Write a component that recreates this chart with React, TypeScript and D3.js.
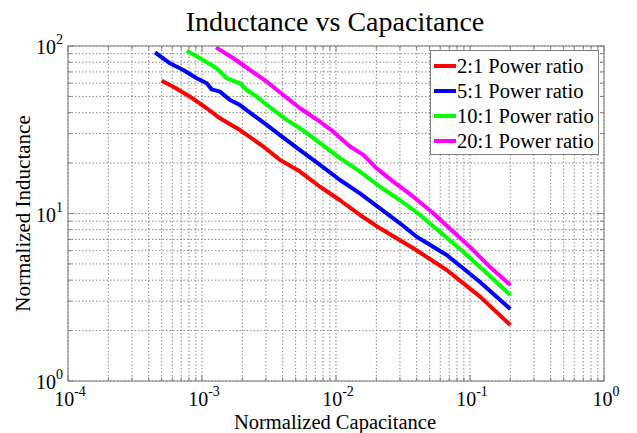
import React from 'react';
import * as d3 from 'd3';

const W = 637;
const H = 433;

const titleText = 'Inductance vs Capacitance';
const xLabel = 'Normalized Capacitance';
const yLabel = 'Normalized Inductance';
const xTickExps = [-4, -3, -2, -1, 0];
const yTickExps = [0, 1, 2];

const seriesNames = ['2:1 Power ratio', '5:1 Power ratio', '10:1 Power ratio', '20:1 Power ratio'];
const seriesColors = ['#ff0000', '#0000ff', '#00ff00', '#ff00ff'];

const cap2 = [5.0e-4, 6.11e-4, 8.14e-4, 1.084e-3, 1.362e-3, 1.921e-3, 2.867e-3, 3.82e-3, 5.385e-3, 7.6e-3, 1.071e-2, 1.51e-2, 2.13e-2, 3.776e-2, 6.7e-2, 0.1187, 0.2];
const ind2 = [62.1, 57.1, 49.8, 42.5, 37.0, 31.5, 25.1, 20.9, 17.8, 14.45, 12.0, 9.8, 8.16, 6.2, 4.6, 3.19, 2.16];

const cap5 = [4.46e-4, 5.77e-4, 7.25e-4, 9.13e-4, 1.084e-3, 1.181e-3, 1.362e-3, 1.618e-3, 1.921e-3, 2.415e-3, 3.04e-3, 3.82e-3, 5.385e-3, 7.6e-3, 1.071e-2, 1.51e-2, 2.13e-2, 3.003e-2, 4.0e-2, 6.7e-2, 0.1187, 0.2];
const ind5 = [91.7, 78.8, 71.9, 64.2, 59.9, 55.1, 53.4, 47.6, 44.4, 38.7, 33.8, 29.4, 23.9, 19.5, 15.85, 13.2, 10.74, 8.74, 7.27, 5.65, 3.9, 2.69];

const cap10 = [7.69e-4, 9.66e-4, 1.287e-3, 1.528e-3, 1.921e-3, 2.156e-3, 2.559e-3, 3.405e-3, 4.286e-3, 5.385e-3, 7.6e-3, 1.071e-2, 1.51e-2, 2.13e-2, 3.003e-2, 4.235e-2, 5.97e-2, 8.42e-2, 0.1187, 0.2];
const ind10 = [93.7, 84.5, 73.6, 64.2, 59.9, 54.6, 49.8, 41.5, 36.2, 32.3, 26.3, 21.4, 17.8, 14.45, 12.0, 9.8, 7.75, 6.14, 4.79, 3.26];

const cap20 = [1.272e-3, 1.712e-3, 2.282e-3, 3.04e-3, 4.044e-3, 5.385e-3, 7.6e-3, 9.55e-3, 1.272e-2, 1.599e-2, 2.012e-2, 2.676e-2, 3.776e-2, 5.32e-2, 7.5e-2, 0.1, 0.141, 0.2];
const ind20 = [98.2, 84.5, 71.9, 61.2, 51.0, 42.5, 35.3, 30.8, 25.1, 22.4, 18.6, 15.5, 12.6, 10.03, 7.78, 6.31, 4.79, 3.74];

const seriesX = [cap2, cap5, cap10, cap20];
const seriesY = [ind2, ind5, ind10, ind20];

const L = 68, R = 604, T = 46, B = 381;
const serif = '"Liberation Serif", "Times New Roman", serif';

export default function App() {
  const x = d3.scaleLog().domain([1e-4, 1]).range([L, R]);
  const y = d3.scaleLog().domain([1, 100]).range([B, T]);

  const xMinor: number[] = [];
  for (let e = -4; e < 0; e++) for (let m = 1; m <= 9; m++) xMinor.push(m * Math.pow(10, e));
  xMinor.push(1);
  const yMinor: number[] = [];
  for (let e = 0; e < 2; e++) for (let m = 1; m <= 9; m++) yMinor.push(m * Math.pow(10, e));
  yMinor.push(100);

  const isMajor = (v: number) => Math.abs(Math.log10(v) - Math.round(Math.log10(v))) < 1e-9;
  const line = d3.line<[number, number]>().x(d => x(d[0])).y(d => y(d[1]));
  const gridColor = '#6e6e6e';
  const axisColor = '#7f7f7f';

  return (
    <svg width={W} height={H} style={{ position: 'absolute', left: 0, top: 0, background: '#fff' }} fontFamily={serif}>
      <rect x={0} y={0} width={W} height={H} fill="#fff" />
      {xMinor.map((v, i) => (
        <line key={'gx' + i} x1={x(v)} x2={x(v)} y1={T} y2={B} stroke={gridColor} strokeWidth={0.8} strokeDasharray="1.5,2" />
      ))}
      {yMinor.map((v, i) => (
        <line key={'gy' + i} x1={L} x2={R} y1={y(v)} y2={y(v)} stroke={gridColor} strokeWidth={0.8} strokeDasharray="1.5,2" />
      ))}
      {xMinor.map((v, i) => {
        const len = isMajor(v) ? 6 : 3.5;
        return (
          <g key={'tx' + i}>
            <line x1={x(v)} x2={x(v)} y1={B} y2={B - len} stroke={axisColor} />
            <line x1={x(v)} x2={x(v)} y1={T} y2={T + len} stroke={axisColor} />
          </g>
        );
      })}
      {yMinor.map((v, i) => {
        const len = isMajor(v) ? 6 : 3.5;
        return (
          <g key={'ty' + i}>
            <line x1={L} x2={L + len} y1={y(v)} y2={y(v)} stroke={axisColor} />
            <line x1={R} x2={R - len} y1={y(v)} y2={y(v)} stroke={axisColor} />
          </g>
        );
      })}
      {seriesX.map((xs, i) => {
        const pts = xs.map((c, j) => [c, seriesY[i][j]] as [number, number]);
        return <path key={'s' + i} d={line(pts) || ''} fill="none" stroke={seriesColors[i]} strokeWidth={4} strokeLinejoin="round" />;
      })}
      <rect x={L} y={T} width={R - L} height={B - T} fill="none" stroke={axisColor} strokeWidth={1} />
      {xTickExps.map(e => (
        <text key={'xl' + e} x={x(Math.pow(10, e)) + 2} y={406} textAnchor="middle" fontSize={20} fill="#000">
          <tspan>10</tspan>
          <tspan dy={-10} fontSize={14}>{String(e)}</tspan>
        </text>
      ))}
      {yTickExps.map(e => (
        <text key={'yl' + e} x={63} y={y(Math.pow(10, e)) + 8} textAnchor="end" fontSize={20} fill="#000">
          <tspan>10</tspan>
          <tspan dy={-10} fontSize={14}>{String(e)}</tspan>
        </text>
      ))}
      <text x={335} y={31} textAnchor="middle" fontSize={28} fill="#000">{titleText}</text>
      <text x={335} y={429} textAnchor="middle" fontSize={20.5} fill="#000">{xLabel}</text>
      <text transform={`translate(30, ${(T + B) / 2}) rotate(-90)`} textAnchor="middle" fontSize={21} fill="#000">{yLabel}</text>
      <rect x={430.5} y={50.5} width={168} height={104} fill="#fff" stroke={axisColor} strokeWidth={1} />
      {seriesNames.map((n, i) => {
        const cy = 66 + i * 25;
        return (
          <g key={'lg' + i}>
            <line x1={434} x2={456} y1={cy} y2={cy} stroke={seriesColors[i]} strokeWidth={4} />
            <text x={457} y={cy + 7} fontSize={20.5} fill="#000">{n}</text>
          </g>
        );
      })}
    </svg>
  );
}
